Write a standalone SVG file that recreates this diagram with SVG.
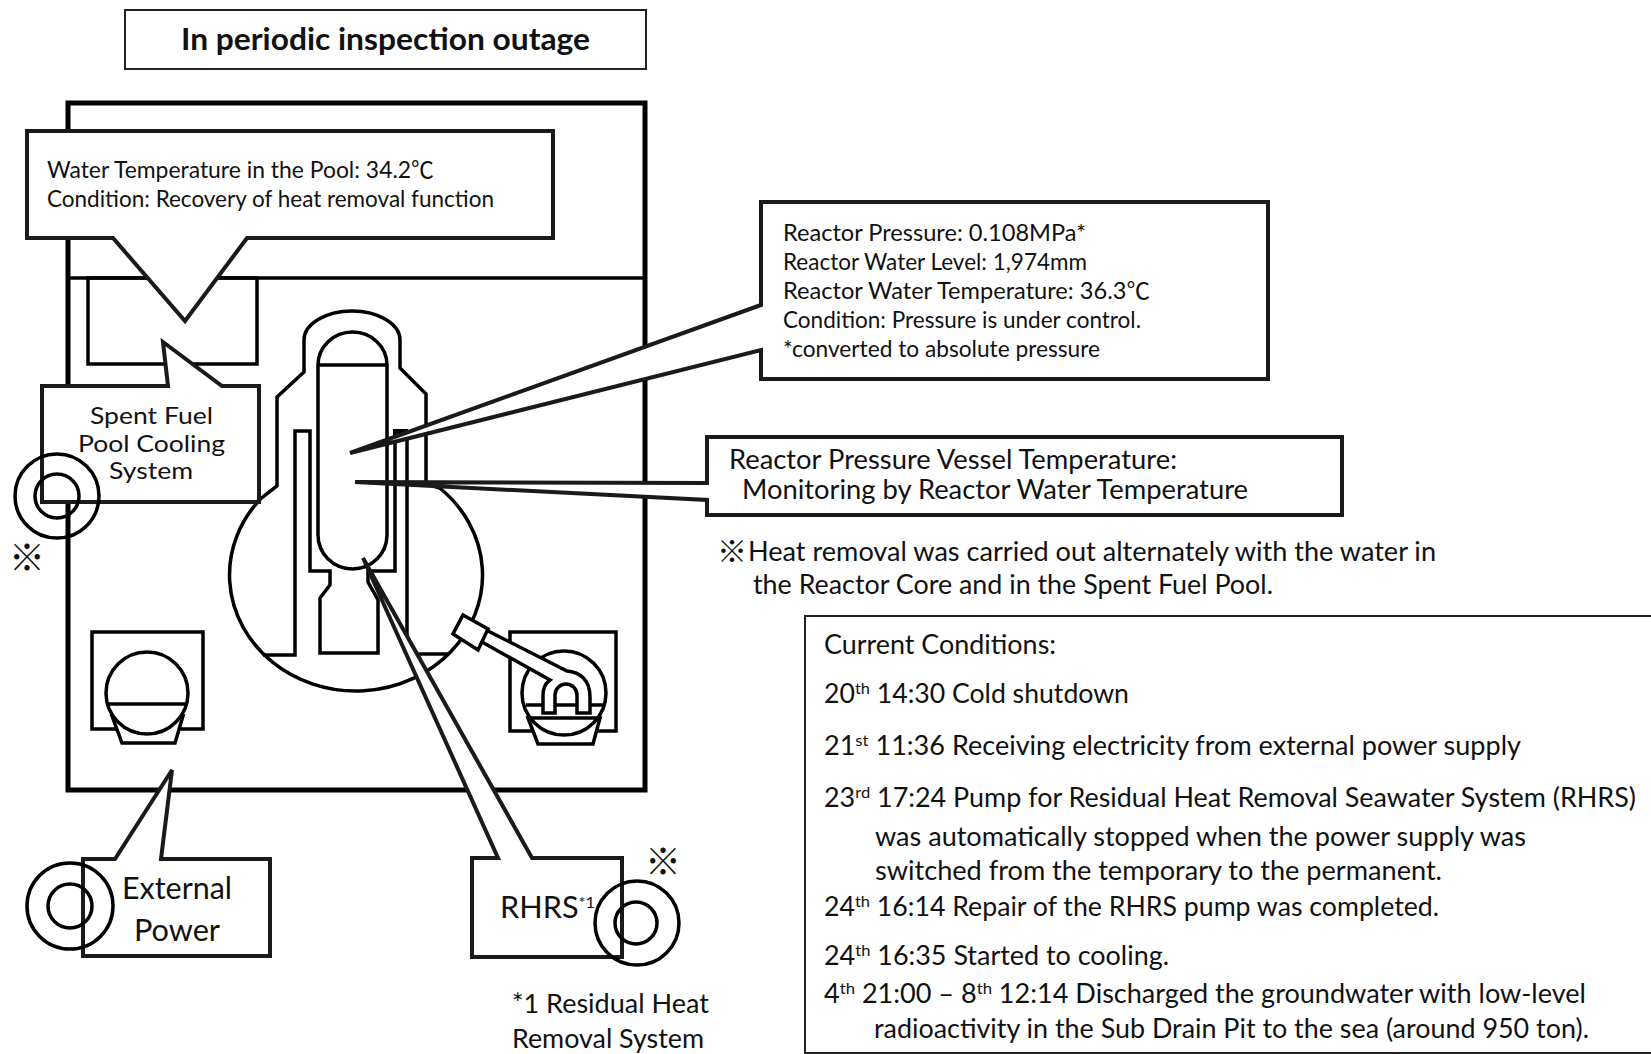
<svg xmlns="http://www.w3.org/2000/svg" width="1651" height="1054" viewBox="0 0 1651 1054">
<style>
text{font-family:Lato,"Noto Sans CJK JP",sans-serif;fill:#111;}
.ln{fill:none;stroke:#000;stroke-width:3.5;stroke-linejoin:miter;}
.wh{fill:#fff;stroke:#000;stroke-width:3.5;stroke-linejoin:miter;}
.co{fill:#fff;stroke:#1a1a1a;stroke-width:4;stroke-linejoin:miter;}
.th{fill:none;stroke:#000;stroke-width:5;}
.ring{fill:none;stroke:#000;stroke-width:3.5;}
.s21{font-size:22.5px;}
.s24{font-size:26px;}
.s23{font-size:24px;}
.s25{font-size:26.5px;}
.s28{font-size:30px;}
.sup{font-size:16px;}
.mark{font-size:36px;}
</style>
<rect width="1651" height="1054" fill="#fff"/>

<g id="building">
<rect class="th" x="68" y="103" width="577" height="687"/>
<path class="ln" d="M68 278H645"/>
</g>
<g id="spent-fuel-pool">
<rect class="ln" x="88" y="278" width="169" height="86"/>
</g>
<g id="reactor">
<path class="wh" d="M277 486V397L304 372V340A48 29 0 0 1 400 340V368L426 394V484L439.7 488A126.5 116 0 1 1 261.4 498Z"/>
<path class="ln" d="M263 655H295V431H310V571H330V585L320 598V653H378V600L368 582V571H395V432H407V654H448"/>
<path class="ln" d="M393 432H408" style="stroke-width:6"/>
<path class="wh" d="M318 365A34.5 33 0 0 1 387 365V535A34.5 34 0 0 1 318 535Z"/>
<path class="ln" d="M318 365H387"/>
</g>
<g id="pump-left">
<rect class="ln" x="92" y="632" width="111" height="97"/>
<path class="wh" d="M112 716L122 743H175L183 716Z"/>
<circle class="wh" cx="147" cy="693" r="41"/>
<path class="ln" d="M108 704H187"/>
</g>
<g id="pump-right">
<rect class="ln" x="510" y="632" width="106" height="99"/>
<path class="wh" d="M528 718L538 744H593L600 718Z"/>
<circle class="wh" cx="564" cy="693" r="42"/>
<path class="ln" d="M526 705H603M528 718H600"/>
</g>
<g id="connectors">
<path class="wh" d="M482 642L550 680Q543 685 543 695V713H555V695A11 11 0 0 1 577 695V713H590V697C590 680 580 672 567 671L486 630Z"/>
<path class="wh" d="M463 615L488 629L478 650L453 634Z"/>
</g>

<g id="title">
<rect x="125" y="10" width="521" height="59" fill="#fff" stroke="#222" stroke-width="2"/>
<text x="181" y="50" font-size="30" font-weight="700" textLength="409" lengthAdjust="spacingAndGlyphs">In periodic inspection outage</text>
</g>

<g id="callout-pool">
<path class="co" d="M27 131H553V238H247L185 321L113 238H27Z"/>
<text class="s21" x="47" y="178" textLength="387" lengthAdjust="spacingAndGlyphs">Water Temperature in the Pool: 34.2℃</text>
<text class="s21" x="47" y="207" textLength="447" lengthAdjust="spacingAndGlyphs">Condition: Recovery of heat removal function</text>
</g>

<g id="callout-sfp">
<path class="co" d="M42 386H168L163 342L222 386H259V502H42Z"/>
<text class="s23" x="90" y="424" textLength="123" lengthAdjust="spacingAndGlyphs">Spent Fuel</text>
<text class="s23" x="78" y="452" textLength="147" lengthAdjust="spacingAndGlyphs">Pool Cooling</text>
<text class="s23" x="109" y="479" textLength="84" lengthAdjust="spacingAndGlyphs">System</text>
<circle class="ring" cx="57" cy="496" r="42"/>
<circle class="ring" cx="57" cy="496" r="22"/>
<text class="mark" x="27" y="571" text-anchor="middle">※</text>
</g>

<g id="callout-rpv">
<path class="co" d="M761 202H1268V379H761V350L350 453L761 305Z"/>
<text class="s21" x="783" y="241" textLength="303" lengthAdjust="spacingAndGlyphs">Reactor Pressure: 0.108MPa*</text>
<text class="s21" x="783" y="270" textLength="304" lengthAdjust="spacingAndGlyphs">Reactor Water Level: 1,974mm</text>
<text class="s21" x="783" y="299" textLength="367" lengthAdjust="spacingAndGlyphs">Reactor Water Temperature:  36.3℃</text>
<text class="s21" x="783" y="328" textLength="358" lengthAdjust="spacingAndGlyphs">Condition: Pressure is under control.</text>
<text class="s21" x="783" y="357" textLength="317" lengthAdjust="spacingAndGlyphs">*converted to absolute pressure</text>
</g>

<g id="callout-vessel">
<path class="co" d="M707 437H1342V515H707V500L355 482L707 483Z"/>
<text class="s24" x="729" y="469" textLength="448" lengthAdjust="spacingAndGlyphs">Reactor Pressure Vessel Temperature:</text>
<text class="s24" x="742" y="499" textLength="506" lengthAdjust="spacingAndGlyphs">Monitoring by Reactor Water Temperature</text>
</g>

<g id="note">
<text class="mark" x="732" y="562" text-anchor="middle" style="font-size:30px">※</text>
<text class="s24" x="748" y="561" textLength="688" lengthAdjust="spacingAndGlyphs">Heat removal was carried out alternately with the water in</text>
<text class="s24" x="753" y="594" textLength="520" lengthAdjust="spacingAndGlyphs">the Reactor Core and in the Spent Fuel Pool.</text>
</g>

<g id="callout-rhrs">
<path class="co" d="M472 858H498L363 558L532 858H622V957H472Z"/>
<text class="s28" x="500" y="918" textLength="95" lengthAdjust="spacingAndGlyphs">RHRS<tspan class="sup" dy="-10">*1</tspan></text>
<circle class="ring" cx="637" cy="923" r="42"/>
<circle class="ring" cx="636" cy="923" r="21"/>
<text class="mark" x="663" y="875" text-anchor="middle">※</text>
<text class="s25" x="512" y="1013" textLength="197" lengthAdjust="spacingAndGlyphs">*1 Residual Heat</text>
<text class="s25" x="512" y="1048" textLength="192" lengthAdjust="spacingAndGlyphs">Removal System</text>
</g>

<g id="callout-power">
<path class="co" d="M83 859H115L172 770L161 859H270V956H83Z"/>
<text class="s28" x="122" y="899" textLength="110" lengthAdjust="spacingAndGlyphs">External</text>
<text class="s28" x="134" y="941" textLength="86" lengthAdjust="spacingAndGlyphs">Power</text>
<circle class="ring" cx="70" cy="906" r="43"/>
<circle class="ring" cx="70" cy="906" r="22"/>
</g>

<g id="conditions">
<path d="M1651 616H805V1053H1651" fill="#fff" stroke="#222" stroke-width="2"/>
<text class="s24" x="824" y="654" textLength="232" lengthAdjust="spacingAndGlyphs">Current Conditions:</text>
<text class="s24" x="824" y="703" textLength="305" lengthAdjust="spacingAndGlyphs">20<tspan class="sup" dy="-9">th</tspan><tspan dy="9">  14:30 Cold shutdown</tspan></text>
<text class="s24" x="824" y="755" textLength="697" lengthAdjust="spacingAndGlyphs">21<tspan class="sup" dy="-9">st</tspan><tspan dy="9">  11:36  Receiving electricity from external power supply</tspan></text>
<text class="s24" x="824" y="807" textLength="812" lengthAdjust="spacingAndGlyphs">23<tspan class="sup" dy="-9">rd</tspan><tspan dy="9"> 17:24  Pump for Residual Heat Removal Seawater System (RHRS)</tspan></text>
<text class="s24" x="875" y="846" textLength="651" lengthAdjust="spacingAndGlyphs">was automatically stopped when the power supply was</text>
<text class="s24" x="875" y="880" textLength="567" lengthAdjust="spacingAndGlyphs">switched from the temporary to the permanent.</text>
<text class="s24" x="824" y="916" textLength="615" lengthAdjust="spacingAndGlyphs">24<tspan class="sup" dy="-9">th</tspan><tspan dy="9"> 16:14 Repair of the RHRS pump was completed.</tspan></text>
<text class="s24" x="824" y="965" textLength="345" lengthAdjust="spacingAndGlyphs">24<tspan class="sup" dy="-9">th</tspan><tspan dy="9"> 16:35  Started to cooling.</tspan></text>
<text class="s24" x="824" y="1003" textLength="762" lengthAdjust="spacingAndGlyphs">4<tspan class="sup" dy="-9">th</tspan><tspan dy="9">  21:00 – 8</tspan><tspan class="sup" dy="-9">th</tspan><tspan dy="9"> 12:14  Discharged the groundwater with low-level</tspan></text>
<text class="s24" x="874" y="1038" textLength="715" lengthAdjust="spacingAndGlyphs">radioactivity in the Sub Drain Pit to the sea (around 950 ton).</text>
</g>
</svg>
